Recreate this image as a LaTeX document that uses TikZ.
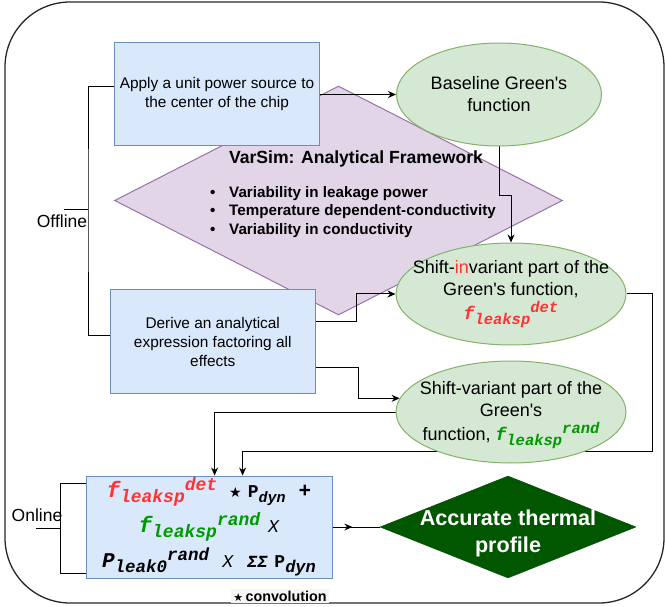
\documentclass[tikz,border=0pt]{standalone}
\usepackage{fontspec}
\setmainfont{Liberation Sans}
\newfontfamily\monofont{Liberation Mono}
\newfontfamily\symfont{DejaVu Sans}
\usetikzlibrary{arrows.meta,positioning,calc,decorations.markings,shapes.geometric}

\definecolor{boxfill}{HTML}{DAE8FC}
\definecolor{boxdraw}{HTML}{6C8EBF}
\definecolor{ellfill}{HTML}{D5E8D4}
\definecolor{elldraw}{HTML}{82B366}
\definecolor{fwfill}{HTML}{E1D5E7}
\definecolor{fwdraw}{HTML}{9673A6}
\definecolor{accfill}{HTML}{005700}
\definecolor{detred}{HTML}{FF3333}
\definecolor{randgreen}{HTML}{009900}

\pgfdeclarelayer{back}
\pgfdeclarelayer{background}
\pgfsetlayers{back,background,main}

% f_leaksp with a raised tag: base size, script size, tag
\newcommand{\fleak}[3]{{\monofont\bfseries\itshape\fontsize{#1}{#1}\selectfont f\raisebox{-5pt}{\fontsize{#2}{#2}\selectfont leaksp}\raisebox{7pt}{\fontsize{#2}{#2}\selectfont #3}}}
\newcommand{\pdyn}[1]{{\monofont\bfseries\fontsize{18}{18}\selectfont P\raisebox{-5pt}{\itshape\fontsize{#1}{#1}\selectfont dyn}}}
\newcommand{\pleak}{{\monofont\bfseries\itshape\fontsize{21}{21}\selectfont P\raisebox{-5pt}{\fontsize{17.5}{17.5}\selectfont leak0}\raisebox{7pt}{\fontsize{17.5}{17.5}\selectfont rand}}}
\newcommand{\xop}{{\monofont\itshape\fontsize{18}{18}\selectfont X}}
\newcommand{\sumsum}{{\monofont\bfseries\itshape\fontsize{17}{17}\selectfont ΣΣ}}
\newcommand{\greens}{Green\textquotesingle s}

\begin{document}
\begin{tikzpicture}[x=1pt,y=-1pt,
  procbox/.style={rectangle, draw=boxdraw, fill=boxfill, line width=1pt, align=center, font=\fontsize{15.4}{19}\selectfont},
  gellipse/.style={ellipse, draw=elldraw, fill=ellfill, line width=1pt, minimum width=230pt, minimum height=102pt, inner sep=0pt},
  ellfont/.style={align=center, font=\fontsize{18}{22}\selectfont},
  flow/.style={-{Stealth[length=8pt,width=7pt]}, line width=1pt},
  bracket/.style={line width=1pt},
  sidelabel/.style={font=\fontsize{17.5}{20}\selectfont},
  mid arrow/.style={decoration={markings, mark=at position 0.42 with {\arrow{Stealth[length=8pt,width=7pt]}}}, postaction={decorate}},
]
\useasboundingbox (0,0) rectangle (665,607);

% ─── Frame ───
\draw[line width=1.3pt, black!85, rounded corners=65pt] (5,2) rectangle (664,603);

% ─── Framework diamond (behind everything) ───
\begin{pgfonlayer}{back}
  \node[diamond, draw=fwdraw, fill=fwfill, line width=1pt, minimum width=448pt, minimum height=229pt, inner sep=0pt] (fw) at (338.5,200.5) {};
\end{pgfonlayer}
\node[font=\bfseries\fontsize{17.6}{21}\selectfont] (fwhead) at (356,159) {VarSim: Analytical Framework};
\node[anchor=west, align=left, inner sep=0pt, font=\bfseries\fontsize{15.2}{18.5}\selectfont] (fwlist) at (210,212)
  {\makebox[19pt][l]{•}Variability in leakage power\\
   \makebox[19pt][l]{•}Temperature dependent-conductivity\\
   \makebox[19pt][l]{•}Variability in conductivity};

% ─── Offline steps ───
\node[procbox, minimum width=205pt, minimum height=103pt] (apply) at (217,94.5) {Apply a unit power source to\\the center of the chip};
\node[procbox, minimum width=205.5pt, minimum height=103pt] (derive) at (212.75,341.5) {Derive an analytical\\expression factoring all\\effects};

\node[gellipse, minimum width=205pt, minimum height=103pt,
  label={[ellfont]center:{Baseline \greens\\function}}] (base) at (499,94.5) {};
\node[gellipse,
  label={[ellfont]center:{Shift-\textcolor{detred}{in}variant part of the\\\greens{} function,\\[2pt]\textcolor{detred}{\fleak{18}{15.5}{det}}}}] (sinv) at (511,294) {};
\node[gellipse,
  label={[ellfont, yshift=-3pt]center:{Shift-variant part of the\\\greens\\[2pt]function, \textcolor{randgreen}{\fleak{18}{15.5}{rand}}}}] (svar) at (511,412) {};

% Offline bracket
\coordinate (offtick) at (88,210);
\draw[bracket] ([yshift=8pt]apply.west) -| (offtick) |- ([yshift=6.5pt]derive.west);
\draw[bracket] (offtick) -- ++(-24,0);
\node[sidelabel] (offlbl) at (62,221) {Offline};

% ─── Online step ───
\node[procbox, minimum width=246pt, minimum height=102pt, inner sep=0pt, font=\fontsize{21}{35}\selectfont] (eqbox) at (209,527)
  {\textcolor{detred}{\fleak{22}{18}{det}}\hspace{12pt}{\symfont\fontsize{14}{14}\selectfont★}\hspace{6pt}\pdyn{15}\hspace{13pt}{\monofont\bfseries +}\\
   \textcolor{randgreen}{\fleak{22}{18}{rand}}\hspace{8pt}\xop\\
   \pleak\hspace{13pt}\xop\hspace{14pt}\sumsum\hspace{7pt}\pdyn{17}};

\node[diamond, draw=accfill!80!black, fill=accfill, minimum width=256pt, minimum height=102pt, inner sep=0pt,
  label={[font=\bfseries\fontsize{21.6}{27}\selectfont, text=white, align=center, yshift=-6pt]center:{Accurate thermal\\profile}}] (result) at (508,527) {};

% Online bracket
\coordinate (ontick) at (60.6,528);
\draw[bracket] ([yshift=44pt]eqbox.west) -| (ontick) |- ([yshift=-46pt]eqbox.west);
\draw[bracket] (ontick) -- ++(-25,0);
\node[sidelabel] (onlbl) at (37,515) {Online};

\node[fill=black!4, inner sep=2pt, font=\bfseries\fontsize{14.3}{16}\selectfont] (conv) at (280,596) {{\symfont\fontsize{11}{11}\selectfont★}\,convolution};

% ─── Connectors ───
\begin{pgfonlayer}{background}
  \draw[flow] (apply.east) -- (base.west);
  \draw[flow] (base.south) -- ++(0,49) -| (sinv.north);
  \draw[flow] ([yshift=19.5pt]derive.east) -- ++(40.5,0) |- (sinv.west);
  \draw[flow] ([yshift=-25.5pt]derive.east) -- ++(42,0) |- (svar.173);
  \draw[flow] (svar.west) -| ([xshift=5.6pt]eqbox.north);
  \draw[flow] (sinv.east) -- ++(26,0) -- ++(0,157) -| ([xshift=33.6pt]eqbox.north);
  \draw[line width=1pt, mid arrow] (eqbox.east) -- (result.west);
\end{pgfonlayer}

\end{tikzpicture}
\end{document}
